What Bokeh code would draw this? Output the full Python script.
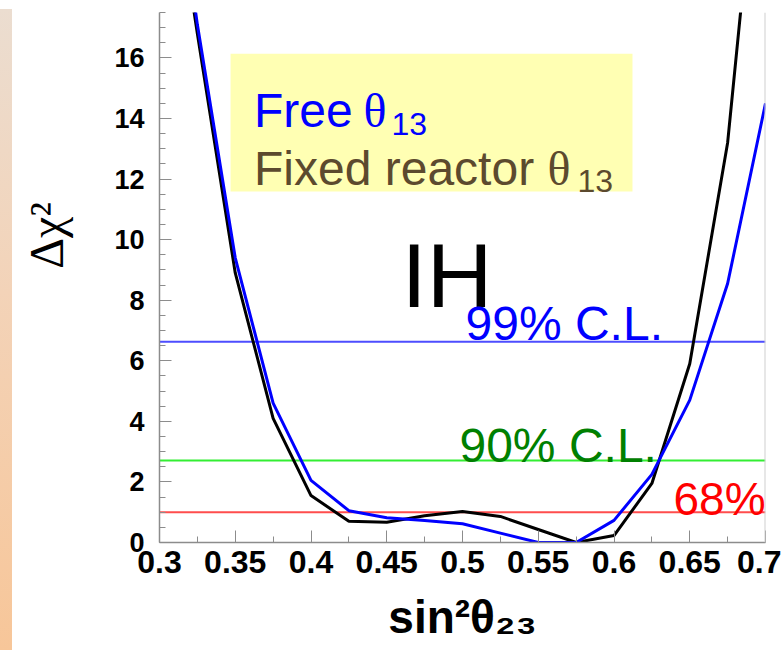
import numpy as np
from bokeh.plotting import figure
from bokeh.layouts import row
from bokeh.models import (Range1d, FixedTicker, SingleIntervalTicker, CustomJSTickFormatter,
                          Span, Label, BoxAnnotation, Div)
from bokeh.embed import file_html
from bokeh.resources import INLINE

# ---------------- data ----------------
sin2_theta23 = [0.300, 0.325, 0.350, 0.375, 0.400, 0.425, 0.450, 0.475, 0.500,
                0.525, 0.550, 0.575, 0.600, 0.625, 0.650, 0.675, 0.700]
dchi2_free = [26.0, 17.1, 9.4, 4.6, 2.05, 1.05, 0.82, 0.73, 0.62,
              0.31, 0.0, 0.0, 0.73, 2.25, 4.7, 8.55, 14.5]
dchi2_fixed = [25.0, 16.8, 8.9, 4.1, 1.55, 0.70, 0.67, 0.88, 1.02,
               0.86, 0.43, 0.0, 0.23, 1.95, 5.9, 13.2, 25.8]
cl_levels = [1.0, 2.71, 6.63]
cl_names = ["68%", "90% C.L.", "99% C.L."]
legend_names = ["Free ", "Fixed reactor "]
hierarchy = "IH"
x_major_ticks = [0.3, 0.35, 0.4, 0.45, 0.5, 0.55, 0.6, 0.65, 0.7]
x_minor_ticks = [0.325, 0.375, 0.425, 0.475, 0.525, 0.575, 0.625, 0.675]
x_title = "sin\u00b2\u03b8\u2082\u2083"
y_title = "\u00a0" * 7 + "\u0394\u03c7\u00b2"

# ---------------- figure ----------------
p = figure(width=769, height=650, x_range=Range1d(0.3, 0.7), y_range=Range1d(0, 17.5),
           output_backend="svg", toolbar_location=None,
           min_border_left=147, min_border_right=16, min_border_top=12, min_border_bottom=108)
p.outline_line_color = None
p.xgrid.visible = False
p.ygrid.visible = False
p.background_fill_color = "white"
p.border_fill_color = "white"

# CL lines
cl_line_cols = ["#FF4D4D", "#33EE33", "#4D4DFF"]
for lev, col in zip(cl_levels, cl_line_cols):
    p.add_layout(Span(location=lev, dimension="width", line_color=col,
                      line_width=2, level="underlay"))
# right frame edge
p.add_layout(Span(location=0.7, dimension="height", line_color="#CFCFCF", line_width=2))

# curves
p.line(sin2_theta23, dchi2_fixed, line_color="black", line_width=3)
p.line(sin2_theta23, dchi2_free, line_color="#0000FF", line_width=3)

# axes
fmt = CustomJSTickFormatter(code="return String(Math.round(tick*1000)/1000);")
p.xaxis.ticker = FixedTicker(ticks=x_major_ticks, minor_ticks=x_minor_ticks)
p.yaxis.ticker = SingleIntervalTicker(interval=2, num_minor_ticks=4)
for ax in (p.xaxis, p.yaxis):
    ax.formatter = fmt
    ax.major_label_text_font = "Liberation Sans"
    ax.major_label_text_font_style = "bold"
    ax.major_label_text_color = "black"
    ax.axis_line_color = "#8C8C8C"
    ax.axis_line_width = 1.5
    ax.major_tick_line_color = "#8C8C8C"
    ax.minor_tick_line_color = "#8C8C8C"
    ax.major_tick_out = 0
    ax.minor_tick_out = 0
    ax.major_tick_in = 12
    ax.minor_tick_in = 6
    ax.axis_label_text_color = "black"
p.xaxis.major_label_text_font_size = "32px"
p.yaxis.major_label_text_font_size = "27px"
p.xaxis.major_label_standoff = 8
p.yaxis.major_label_standoff = 15

p.xaxis.axis_label = x_title
p.xaxis.axis_label_text_font = "Liberation Sans"
p.xaxis.axis_label_text_font_style = "bold"
p.xaxis.axis_label_text_font_size = "46px"
p.xaxis.axis_label_standoff = 15

p.yaxis.axis_label = y_title
p.yaxis.axis_label_text_font = "Liberation Serif"
p.yaxis.axis_label_text_font_style = "normal"
p.yaxis.axis_label_text_font_size = "48px"
p.yaxis.axis_label_standoff = 38


def lab(x, y, text, size, color="black", font="Liberation Sans", style="normal"):
    p.add_layout(Label(x=x, y=y, text=text, text_font=font, text_font_size=size,
                       text_font_style=style, text_color=color,
                       text_align="left", text_baseline="alphabetic"))

# legend box
p.add_layout(BoxAnnotation(left=0.3469, right=0.6122, bottom=11.59, top=16.14,
                           fill_color="#FFFFB3", fill_alpha=1, line_color=None))
lab(0.3624, 14.26, legend_names[0], "48px", color="#0000FF")
lab(0.4347, 14.26, "\u03b8", "48px", color="#0000FF", font="Liberation Serif")
lab(0.4531, 13.83, "13", "32px", color="#0000FF")
lab(0.3624, 12.35, legend_names[1], "48px", color="#5C4A2E")
lab(0.5561, 12.35, "\u03b8", "48px", color="#5C4A2E", font="Liberation Serif")
lab(0.5759, 11.92, "13", "32px", color="#5C4A2E")

# IH and CL labels
lab(0.4597, 8.81, hierarchy, "91px")
lab(0.502, 7.23, cl_names[2], "48px", color="#0000FF")
lab(0.498, 3.20, cl_names[1], "48px", color="#008000")
lab(0.6393, 1.45, cl_names[0], "46px", color="#FF0000")

# slide background strip at the far left
strip = Div(text="", width=12, height=650, margin=0,
            styles={"background": "linear-gradient(to bottom, #FFFFFF 0px, #FFFFFF 9px, "
                                  "#EBDDD0 9px, #F3D3B8 45%, #F7C699 100%)"})

layout = row(strip, p, spacing=0)
open("out.html", "w").write(file_html(layout, INLINE))
